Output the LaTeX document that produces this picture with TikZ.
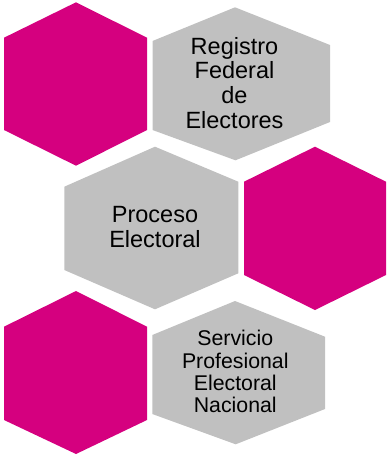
\documentclass[tikz,border=0pt]{standalone}
\usepackage{fontspec}
\setmainfont{Liberation Sans}
\definecolor{hexmag}{HTML}{D5007F}
\definecolor{hexgray}{HTML}{C0C0C0}
\begin{document}
\begin{tikzpicture}[x=1pt,y=-1pt,
  maghex/.style={fill=hexmag},
  grayhex/.style={fill=hexgray},
  biglabel/.style={inner sep=0pt,align=center,font=\fontsize{23.5}{24.7}\selectfont},
  smalllabel/.style={inner sep=0pt,align=center,font=\fontsize{21.3}{22.3}\selectfont}]
\useasboundingbox (0,0) rectangle (387,456);
% magenta hexagons
\path[maghex] (76,2.3) -- (147,37.7) -- (147,130) -- (76,165.7) -- (4,130) -- (4,37.7) -- cycle;
\path[maghex] (315,146.7) -- (386,181.7) -- (386,275) -- (315,310) -- (244,275) -- (244,181.7) -- cycle;
\path[maghex] (76,291) -- (147,326.7) -- (147,420) -- (76,454) -- (4,420) -- (4,326.7) -- cycle;
% gray hexagons
\path[grayhex] (235,7.3) -- (330,45) -- (330,122) -- (235.5,160.3) -- (152.5,130) -- (152.5,41) -- cycle;
\path[grayhex] (155,146.7) -- (238.3,181.7) -- (238.3,273.3) -- (155,309.3) -- (64.3,270) -- (64.3,186.7) -- cycle;
\path[grayhex] (235,301) -- (325,336.7) -- (325,409) -- (235.7,444.3) -- (152.3,414) -- (152.3,335) -- cycle;
% labels
\node[biglabel] (rfe) at (234.5,82.9) {Registro\\Federal\\de\\Electores};
\node[biglabel] (pe) at (155,226.9) {Proceso\\Electoral};
\node[smalllabel] (spen) at (235.3,371.8) {Servicio\\Profesional\\Electoral\\Nacional};
\end{tikzpicture}
\end{document}
